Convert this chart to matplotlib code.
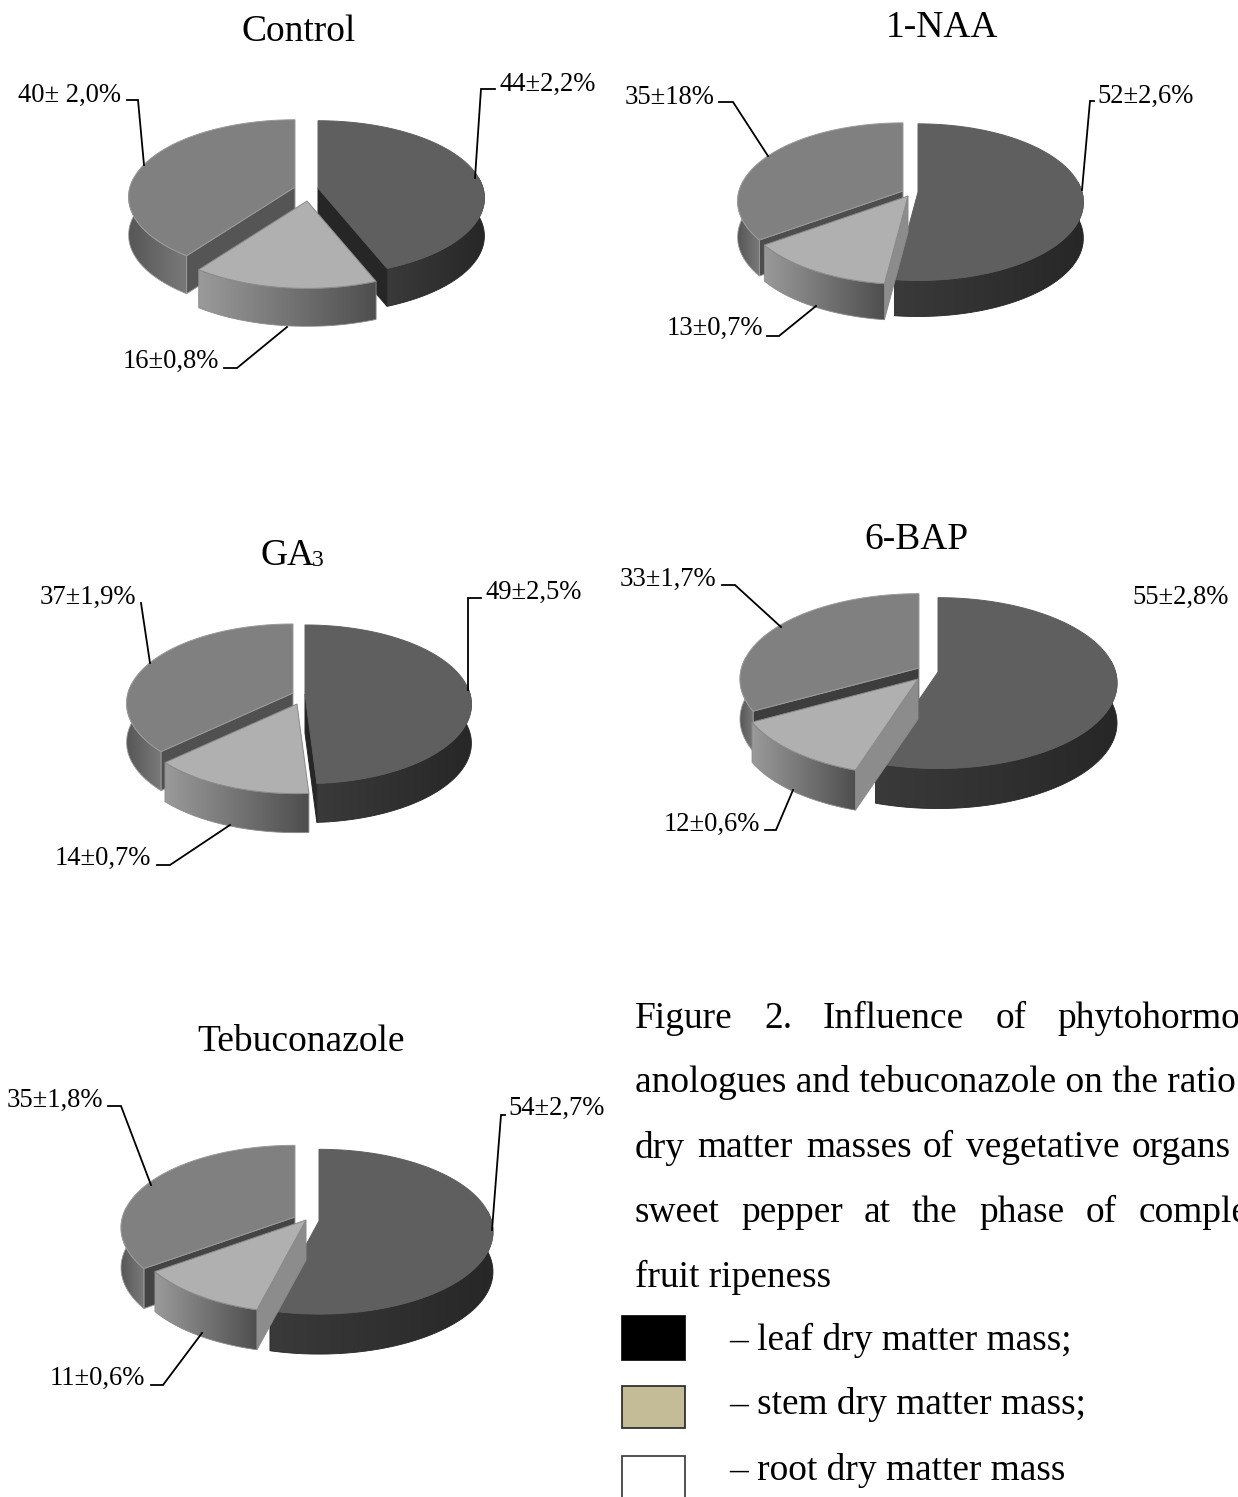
import numpy as np
import matplotlib
matplotlib.use("Agg")
import matplotlib.pyplot as plt
from matplotlib.colors import LinearSegmentedColormap, to_rgb
from matplotlib.patches import Polygon, Rectangle

plt.rcParams['font.family'] = ['Liberation Serif', 'DejaVu Serif']

# values: dark, light and mid slice share, %
CONTROL = [44, 16, 40]
NAA = [52, 13, 35]
GA3 = [49, 14, 37]
BAP = [55, 12, 33]
TEBU = [54, 11, 35]

LABELS_CONTROL = ['44±2,2%', '16±0,8%', '40± 2,0%']
LABELS_NAA = ['52±2,6%', '13±0,7%', '35±18%']
LABELS_GA3 = ['49±2,5%', '14±0,7%', '37±1,9%']
LABELS_BAP = ['55±2,8%', '12±0,6%', '33±1,7%']
LABELS_TEBU = ['54±2,7%', '11±0,6%', '35±1,8%']

W, H = 1238, 1497
PERSP = 0.13  # how much the far rim shrinks

TOP = ['#5f5f5f', '#b0b0b0', '#808080']
SIDE = [('#3a3a3a', '#272727'), ('#9a9a9a', '#4e4e4e'), ('#575757', '#7a7a7a')]
EDGE = [None, '#8a8a8a', '#9a9a9a']

# layout in pixels: rx, ry, depth, slice apexes (dark, light, mid), cut face colour of mid slice
PIES = [
    dict(vals=CONTROL, rx=165, ry=76, d=38, apex=[(318, 188), (307, 201), (295, 187)], cut='#555555'),
    dict(vals=NAA, rx=164, ry=77, d=36, apex=[(918, 192), (908, 196), (903, 191)], cut='#4d4d4d'),
    dict(vals=GA3, rx=165, ry=78, d=39, apex=[(305, 694), (297, 704), (293, 693)], cut='#505050'),
    dict(vals=BAP, rx=177.5, ry=84, d=40, apex=[(938, 672), (918, 679), (919, 668)], cut='#3d3d3d'),
    dict(vals=TEBU, rx=172.5, ry=81, d=40, apex=[(319, 1221), (306, 1220), (295, 1217)], cut='#444444'),
]

# label text anchor, then the leader line (empty when the source has none)
CALLOUTS = [
    (LABELS_CONTROL, [(499, 84), (123, 361), (18, 95)],
     [[(495, 89), (481, 89), (475, 178)], [(224, 368), (237, 368), (287, 327)],
      [(127, 100), (138, 100), (144, 165)]]),
    (LABELS_NAA, [(1097, 96), (667, 328), (625, 97)],
     [[(1094, 101), (1090, 101), (1082, 190)], [(767, 336), (779, 336), (816, 306)],
      [(719, 102), (733, 102), (768, 156)]]),
    (LABELS_GA3, [(485, 592), (55, 858), (40, 597)],
     [[(481, 598), (468, 598), (468, 690)], [(157, 865), (170, 865), (230, 825)],
      [(141, 603), (150, 663)]]),
    (LABELS_BAP, [(1132, 597), (664, 824), (620, 579)],
     [[], [(765, 830), (776, 830), (793, 790)], [(722, 585), (735, 585), (781, 627)]]),
    (LABELS_TEBU, [(508, 1108), (50, 1378), (7, 1100)],
     [[(505, 1115), (501, 1115), (492, 1230)], [(151, 1385), (163, 1385), (202, 1333)],
      [(108, 1106), (121, 1106), (151, 1185)]]),
]

TITLES = [('Control', 299, 32), ('1-NAA', 942, 28), ('6-BAP', 916, 540),
          ('Tebuconazole', 301, 1042)]

# caption lines are justified in the source, so words sit at their own x
CAPTION = [
    (1019, [('Figure', 635), ('2.', 764), ('Influence', 823), ('of', 996), ('phytohormo', 1057)]),
    (1083, [('anologues and tebuconazole on the ratio', 635)]),
    (1148, [('dry', 635), ('matter', 697), ('masses', 806), ('of', 923),
            ('vegetative', 966), ('organs', 1132)]),
    (1213, [('sweet', 635), ('pepper', 741), ('at', 864), ('the', 912), ('phase', 979),
            ('of', 1086), ('comple', 1139)]),
    (1277, [('fruit ripeness', 635)]),
]

LEGEND = [('– leaf dry matter mass;', '#000000', '#000000', 1316, 44, 1340),
          ('– stem dry matter mass;', '#c4bc96', '#222222', 1386, 42, 1405),
          ('– root dry matter mass', '#ffffff', '#333333', 1456, 60, 1470)]

order = [10]


def next_z():
    order[0] += 1
    return order[0]


def rim(theta, ax0, ay0, rx, ry):
    """Point on the pie rim; theta clockwise from 12 o'clock, with perspective."""
    u, v = np.sin(theta), np.cos(theta)
    w = 1 + PERSP * v
    return ax0 + rx * u / w, ay0 - ry * v / w


def draw_slice(ax, i, t1, t2, apex, rx, ry, d, cuts):
    ts = np.linspace(t1, t2, 200)
    xs, ys = rim(ts, apex[0], apex[1], rx, ry)

    # cut faces that turn toward the viewer
    for t, vis in ((t1, np.sin(t1) < 0), (t2, np.sin(t2) > 0)):
        if vis:
            x, y = rim(t, apex[0], apex[1], rx, ry)
            q = [apex, (x, y), (x, y + d), (apex[0], apex[1] + d)]
            ax.add_patch(Polygon(q, closed=True, fc=cuts[i], ec=EDGE[i] or cuts[i], lw=0.7,
                                 zorder=next_z()))

    # outer wall: a gradient image clipped to the wall outline
    front = np.cos(ts) < PERSP
    if front.sum() > 1:
        fx, fy = xs[front], ys[front]
        outline = list(zip(fx, fy)) + list(zip(fx[::-1], fy[::-1] + d))
        z = next_z()
        wall = Polygon(outline, closed=True, fc='none', ec=EDGE[i] or SIDE[i][1], lw=0.6, zorder=z + 0.5)
        ax.add_patch(wall)
        cmap = LinearSegmentedColormap.from_list('w', [to_rgb(SIDE[i][0]), to_rgb(SIDE[i][1])])
        im = ax.imshow(np.linspace(0, 1, 256)[None, :], cmap=cmap, aspect='auto', zorder=z,
                       extent=(fx.min(), fx.max(), fy.max() + d, fy.min()), interpolation='bilinear')
        im.set_clip_path(wall)

    pts = [apex] + list(zip(xs, ys))
    ax.add_patch(Polygon(pts, closed=True, fc=TOP[i], ec=EDGE[i] or TOP[i], lw=0.7, zorder=next_z()))


def draw_pie(ax, p):
    fr = np.cumsum([0] + p['vals']) / sum(p['vals']) * 2 * np.pi
    cuts = ['#262626', '#8c8c8c', p['cut']]
    for i in (2, 0, 1):  # back slice first, the light one sits in front
        draw_slice(ax, i, fr[i], fr[i + 1], p['apex'][i], p['rx'], p['ry'], p['d'], cuts)


fig = plt.figure(figsize=(W / 100, H / 100), dpi=100, facecolor='white')
ax = fig.add_axes([0, 0, 1, 1])

for p in PIES:
    draw_pie(ax, p)

# imshow moves the limits, so they are set afterwards
ax.set_xlim(0, W)
ax.set_ylim(H, 0)
ax.axis('off')

for labels, anchors, leaders in CALLOUTS:
    for lab, (x, y), line in zip(labels, anchors, leaders):
        ax.text(x, y, lab, fontsize=19.2, va='center', ha='left', color='black', zorder=500)
        if line:
            ax.plot(*zip(*line), color='black', lw=1.3, solid_joinstyle='miter', zorder=500)

for t, x, y in TITLES:
    ax.text(x, y, t, fontsize=27, ha='center', va='center')
ax.text(260, 556, 'GA', fontsize=27, ha='left', va='center')
ax.text(312, 560, '3', fontsize=17, ha='left', va='center')

for y, words in CAPTION:
    for word, x in words:
        ax.text(x, y, word, fontsize=26.9, ha='left', va='center')

for txt, fc, ec, y, h, ty in LEGEND:
    ax.add_patch(Rectangle((622, y), 63, h, fc=fc, ec=ec, lw=1.2))
    ax.text(729, ty, txt, fontsize=26.9, ha='left', va='center')

fig.savefig('out.png', dpi=100)
